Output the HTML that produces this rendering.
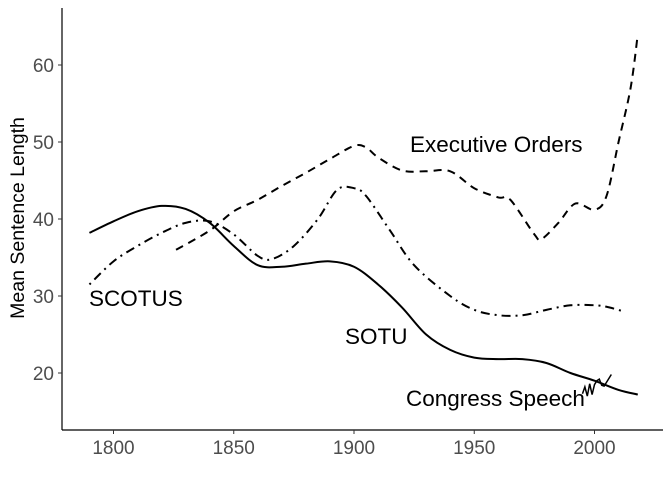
<!DOCTYPE html>
<html><head><meta charset="utf-8"><style>
body{margin:0;background:#fff}
svg{display:block;font-family:"Liberation Sans",Arial,sans-serif}
</style></head><body>
<svg id="chart" width="672" height="480">
<g id="axes"></g><g id="lines"></g>
<text x="410" y="152" font-size="22.5">Executive Orders</text>
<text x="89" y="306" font-size="22.5">SCOTUS</text>
<text x="345" y="344" font-size="22.5">SOTU</text>
<text x="406" y="406" font-size="22.5">Congress Speech</text>
<text transform="translate(24,218) rotate(-90)" text-anchor="middle" font-size="19.5">Mean Sentence Length</text>
</svg>
<script>
const xTicks=[1800,1850,1900,1950,2000];
const yTicks=[20,30,40,50,60];
const sotuYears=[1790,1800,1810,1820,1830,1840,1850,1860,1870,1880,1890,1900,1910,1920,1930,1940,1950,1960,1970,1980,1990,2000,2010,2018];
const sotuVals=[38.2,39.7,41,41.7,41.3,39.5,36.5,34,33.8,34.2,34.5,33.8,31.5,28.5,25,23,22,21.8,21.8,21.3,20,19,17.8,17.2];
const eoYears=[1826,1840,1850,1860,1870,1880,1890,1900,1905,1910,1920,1930,1940,1950,1960,1965,1975,1978,1985,1992,2000,2005,2010,2015,2018];
const eoVals=[36,38.5,41,42.5,44.3,46,47.8,49.5,49.3,48,46.3,46.2,46.2,44,42.8,42.5,38,37.4,39.5,42,41.2,43,50,57,64];
const scYears=[1790,1800,1810,1820,1830,1840,1850,1860,1866,1875,1885,1893,1900,1905,1915,1925,1940,1950,1960,1970,1980,1990,2000,2005,2011];
const scVals=[31.5,34.5,36.5,38.2,39.5,39.7,38,35.2,34.8,36.5,40,43.8,44,43,38.5,34,30,28.2,27.5,27.5,28.2,28.8,28.8,28.6,28.1];
const csYears=[1995,1996,1997,1998,1999,2000,2001,2002,2003,2004,2005,2006,2007];
const csVals=[17.3,18.2,17,18.6,17.2,18.5,19,19.2,18.4,18.3,18.8,19.3,19.8];
const X=yr=>113.5+(yr-1800)*2.405;
const Y=v=>373-(v-20)*7.7;
const NS="http://www.w3.org/2000/svg";
function mk(tag,attrs,parent){const e=document.createElementNS(NS,tag);for(const k in attrs)e.setAttribute(k,attrs[k]);parent.appendChild(e);return e;}
const ax=document.getElementById('axes');
const yl=mk('line',{x1:62,y1:8,x2:62,y2:430,stroke:'#000','stroke-width':1.2},ax);


const xl=mk('line',{x1:62,y1:430,x2:663,y2:430,stroke:'#000','stroke-width':1.2},ax);


xTicks.forEach(t=>{
  mk('line',{x1:X(t),x2:X(t),y1:430,y2:434,stroke:'#333'},ax);
  const tx=mk('text',{x:X(t),y:454,'text-anchor':'middle','font-size':19,fill:'#4d4d4d'},ax);
  tx.textContent=t;
  
  
});
yTicks.forEach(t=>{
  mk('line',{x1:58,x2:62,y1:Y(t),y2:Y(t),stroke:'#333'},ax);
  const tx=mk('text',{x:54,y:Y(t)+7,'text-anchor':'end','font-size':19,fill:'#4d4d4d'},ax);
  tx.textContent=t;
  
  
});
function smooth(xs,vs){
  const p=xs.map((x,i)=>[X(x),Y(vs[i])]);
  let d='M'+p[0][0]+','+p[0][1];
  for(let i=0;i<p.length-1;i++){
    const p0=p[i-1]||p[i],p1=p[i],p2=p[i+1],p3=p[i+2]||p2;
    const c1=[p1[0]+(p2[0]-p0[0])/6,p1[1]+(p2[1]-p0[1])/6];
    const c2=[p2[0]-(p3[0]-p1[0])/6,p2[1]-(p3[1]-p1[1])/6];
    d+=`C${c1[0]},${c1[1]} ${c2[0]},${c2[1]} ${p2[0]},${p2[1]}`;
  }
  return d;
}
const L=document.getElementById('lines');
const s1=mk('path',{d:smooth(sotuYears,sotuVals),fill:'none',stroke:'#000','stroke-width':2},L);


const s2=mk('path',{d:smooth(eoYears,eoVals),fill:'none',stroke:'#000','stroke-width':2,'stroke-dasharray':'8,6'},L);


const s3=mk('path',{d:smooth(scYears,scVals),fill:'none',stroke:'#000','stroke-width':2,'stroke-dasharray':'2,5,9,5'},L);


const s4=mk('path',{d:'M'+csYears.map((y,i)=>X(y)+','+Y(csVals[i])).join('L'),fill:'none',stroke:'#000','stroke-width':1.5},L);


</script>
</body></html>
